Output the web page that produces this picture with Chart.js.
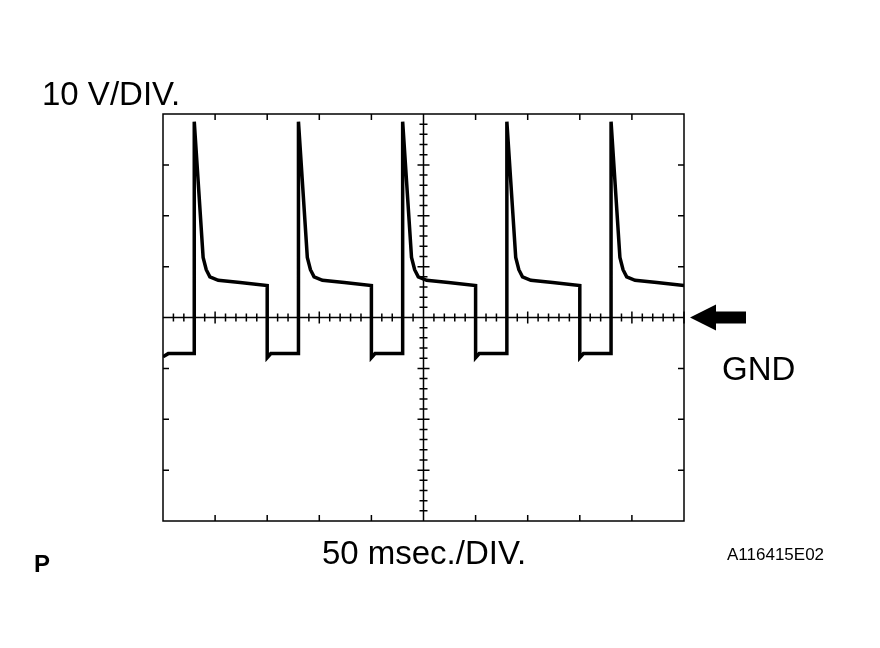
<!DOCTYPE html>
<html>
<head>
<meta charset="utf-8">
<script src="https://cdn.jsdelivr.net/npm/chart.js@4/dist/chart.umd.min.js"></script>
<style>
  html, body { margin: 0; padding: 0; background: #fff; }
  #wrap { width: 880px; height: 648px; }
</style>
</head>
<body>
<div id="wrap"><canvas id="scope"></canvas></div>
<script>
// time in divisions (50 ms/div), voltage in divisions (10 V/div), GND = 0
const timeDiv = [
  0, 0.1, 0.6, 0.6, 0.77, 0.83, 0.9, 1.06, 1.48, 2.0, 2.0, 2.07,
  2.6, 2.6, 2.77, 2.83, 2.9, 3.06, 3.48, 4.0, 4.0, 4.07,
  4.6, 4.6, 4.77, 4.83, 4.9, 5.06, 5.48, 6.0, 6.0, 6.07,
  6.6, 6.6, 6.77, 6.83, 6.9, 7.06, 7.48, 8.0, 8.0, 8.07,
  8.6, 8.6, 8.77, 8.83, 8.9, 9.06, 9.48, 10.0
];
const voltDiv = [
  -0.77, -0.71, -0.71, 3.85, 1.18, 0.94, 0.8, 0.73, 0.69, 0.63, -0.79, -0.71,
  -0.71, 3.85, 1.18, 0.94, 0.8, 0.73, 0.69, 0.63, -0.79, -0.71,
  -0.71, 3.85, 1.18, 0.94, 0.8, 0.73, 0.69, 0.63, -0.79, -0.71,
  -0.71, 3.85, 1.18, 0.94, 0.8, 0.73, 0.69, 0.63, -0.79, -0.71,
  -0.71, 3.85, 1.18, 0.94, 0.8, 0.73, 0.69, 0.63
];

const points = timeDiv.map((t, i) => ({ x: t, y: voltDiv[i] }));

// oscilloscope graticule and labels
const graticule = {
  id: 'graticule',
  beforeDatasetsDraw(chart) {
    const { ctx, chartArea: a, scales: { x, y } } = chart;
    ctx.save();
    ctx.strokeStyle = '#000';
    ctx.lineWidth = 1.5;
    ctx.strokeRect(a.left, a.top, a.right - a.left, a.bottom - a.top);
    const cx = x.getPixelForValue(5), cy = y.getPixelForValue(0);
    ctx.beginPath();
    ctx.moveTo(a.left, cy); ctx.lineTo(a.right, cy);
    ctx.moveTo(cx, a.top); ctx.lineTo(cx, a.bottom);
    // major ticks on border
    for (let i = 1; i < 10; i++) {
      const px = x.getPixelForValue(i);
      ctx.moveTo(px, a.top); ctx.lineTo(px, a.top + 6);
      ctx.moveTo(px, a.bottom); ctx.lineTo(px, a.bottom - 6);
    }
    for (let j = -3; j <= 3; j++) {
      const py = y.getPixelForValue(j);
      ctx.moveTo(a.left, py); ctx.lineTo(a.left + 6, py);
      ctx.moveTo(a.right, py); ctx.lineTo(a.right - 6, py);
    }
    // minor ticks on center lines
    for (let i = 0.2; i < 10; i += 0.2) {
      const px = x.getPixelForValue(i);
      const h = Math.abs(i - Math.round(i)) < 0.01 ? 6 : 4;
      ctx.moveTo(px, cy - h); ctx.lineTo(px, cy + h);
    }
    for (let j = -3.8; j < 4; j += 0.2) {
      const py = y.getPixelForValue(j);
      const h = Math.abs(j - Math.round(j)) < 0.01 ? 6 : 4;
      ctx.moveTo(cx - h, py); ctx.lineTo(cx + h, py);
    }
    ctx.stroke();
    ctx.restore();
  },
  afterDraw(chart) {
    const { ctx, scales: { y } } = chart;
    const gy = y.getPixelForValue(0);
    ctx.save();
    ctx.fillStyle = '#000';
    ctx.textBaseline = 'alphabetic';
    ctx.font = '33px "Liberation Sans", Arial, sans-serif';
    ctx.textAlign = 'left';
    ctx.fillText('10 V/DIV.', 42, 105);
    ctx.fillText('GND', 722, 380);
    ctx.textAlign = 'center';
    ctx.fillText('50 msec./DIV.', 424, 564);
    ctx.textAlign = 'left';
    ctx.font = 'bold 24px "Liberation Sans", Arial, sans-serif';
    ctx.fillText('P', 34, 572);
    ctx.font = '17px "Liberation Sans", Arial, sans-serif';
    ctx.fillText('A116415E02', 727, 560);
    // GND arrow
    ctx.beginPath();
    ctx.moveTo(690, gy);
    ctx.lineTo(716, gy - 13);
    ctx.lineTo(716, gy - 6);
    ctx.lineTo(746, gy - 6);
    ctx.lineTo(746, gy + 6);
    ctx.lineTo(716, gy + 6);
    ctx.lineTo(716, gy + 13);
    ctx.closePath();
    ctx.fill();
    ctx.restore();
  }
};

new Chart(document.getElementById('scope').getContext('2d'), {
  type: 'line',
  data: {
    datasets: [{
      data: points,
      borderColor: '#000',
      borderWidth: 3.5,
      pointRadius: 0,
      tension: 0,
      fill: false
    }]
  },
  options: {
    responsive: true,
    maintainAspectRatio: false,
    animation: false,
    layout: { padding: { left: 163, right: 196, top: 114, bottom: 127 } },
    plugins: { legend: { display: false }, tooltip: { enabled: false } },
    scales: {
      x: { type: 'linear', min: 0, max: 10, display: false },
      y: { type: 'linear', min: -4, max: 4, display: false }
    }
  },
  plugins: [graticule]
});
</script>
</body>
</html>
